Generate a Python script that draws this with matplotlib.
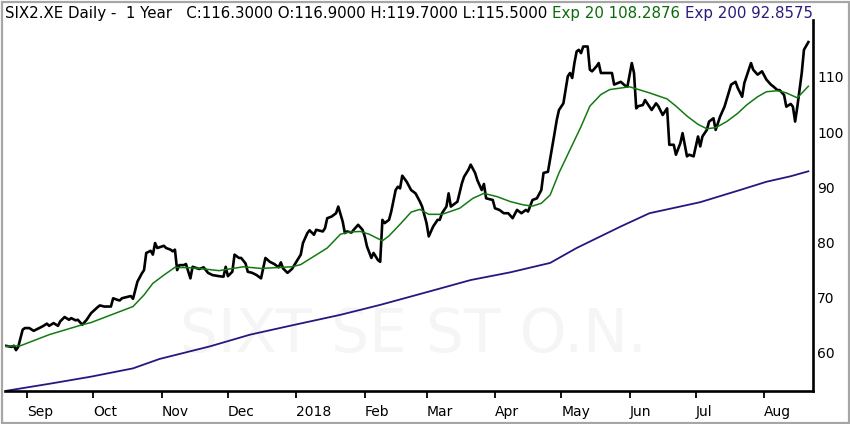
import numpy as np
import pandas as pd
import matplotlib
matplotlib.use('Agg')
import matplotlib.pyplot as plt
from matplotlib.patches import Rectangle

# ---- data ----
start = pd.Timestamp('2017-08-22')

close_day = [0, 3, 4, 5, 6, 8, 9, 11, 13, 14, 17, 19, 20, 22, 24, 25, 27, 29, 30, 32,
             33, 35, 37, 39, 42, 43, 45, 48, 49, 51, 52, 53, 56, 57, 58, 60, 62, 63, 64, 66,
             67, 68, 69, 72, 73, 75, 76, 77, 78, 79, 81, 82, 84, 85, 88, 90, 92, 94, 97, 99,
             100, 101, 103, 104, 106, 107, 109, 110, 112, 114, 116, 118, 120, 122, 124, 125, 126, 128, 130, 132,
             134, 135, 137, 138, 140, 141, 144, 145, 146, 148, 150, 151, 153, 154, 155, 157, 158, 160, 162, 163,
             164, 166, 167, 169, 170, 171, 172, 174, 175, 177, 178, 179, 180, 182, 184, 186, 188, 189, 191, 192,
             194, 196, 197, 198, 200, 201, 202, 205, 207, 208, 210, 211, 213, 214, 216, 217, 218, 221, 222, 224,
             226, 228, 230, 232, 234, 236, 237, 239, 241, 243, 244, 246, 248, 249, 250, 251, 253, 254, 255, 256,
             257, 258, 259, 260, 261, 262, 264, 265, 266, 268, 269, 270, 273, 275, 276, 279, 281, 282, 284, 285,
             286, 287, 289, 290, 291, 293, 295, 296, 298, 300, 301, 303, 304, 306, 307, 309, 310, 312, 314, 315,
             316, 318, 319, 321, 322, 324, 326, 328, 329, 331, 332, 334, 335, 338, 339, 341, 343, 345, 347, 348,
             350, 351, 353, 354, 356, 357, 358, 359, 361, 362, 364]
close_val = [61.3, 61.1, 61.3, 60.5, 61.1, 64.2, 64.5, 64.5, 64.0, 64.2, 64.8, 65.3, 64.9, 65.4, 64.9, 65.7, 66.5, 66.0, 66.3, 65.9,
             66.0, 65.1, 66.0, 67.2, 68.3, 68.6, 68.4, 68.4, 69.9, 69.6, 69.5, 69.9, 70.2, 70.3, 69.8, 72.9, 74.4, 75.0, 78.1, 78.5,
             77.8, 79.9, 79.0, 79.4, 79.0, 78.7, 78.4, 78.7, 75.0, 75.9, 75.9, 76.1, 73.5, 75.6, 75.2, 75.5, 74.5, 74.1, 73.9, 73.8,
             75.6, 73.9, 74.7, 77.8, 77.2, 77.2, 76.2, 74.7, 74.5, 74.1, 73.5, 77.2, 76.5, 76.1, 75.5, 76.4, 75.3, 74.5, 75.2, 76.5,
             77.8, 79.9, 81.7, 82.2, 81.4, 82.3, 82.0, 82.6, 84.4, 84.7, 85.3, 86.5, 83.8, 81.7, 82.0, 81.8, 82.3, 83.2, 82.3, 81.1,
             79.3, 77.2, 78.1, 76.8, 76.5, 84.1, 83.5, 84.1, 85.6, 89.5, 90.1, 89.8, 92.1, 91.0, 89.5, 88.9, 87.4, 86.5, 83.5, 81.1,
             82.9, 84.1, 84.1, 85.3, 86.5, 88.9, 86.5, 87.4, 90.7, 91.9, 93.2, 94.1, 92.6, 91.3, 89.5, 90.6, 88.0, 87.7, 86.2, 85.9,
             85.3, 85.3, 84.4, 85.9, 85.3, 85.9, 85.6, 87.7, 88.0, 89.5, 92.6, 92.8, 97.4, 99.8, 102.2, 104.0, 105.2, 107.6, 110.1, 110.7,
             109.8, 112.5, 114.6, 114.9, 114.3, 115.5, 115.5, 111.3, 111.0, 111.9, 112.5, 110.7, 110.7, 110.7, 108.6, 109.1, 108.4, 108.2, 112.5, 110.7,
             104.3, 104.7, 104.9, 105.8, 105.2, 104.0, 105.2, 104.7, 103.1, 104.3, 97.7, 97.7, 95.9, 98.0, 99.8, 95.6, 95.9, 95.6, 99.2, 97.4,
             99.2, 100.4, 101.9, 102.5, 100.4, 102.8, 104.6, 107.3, 108.6, 109.1, 108.0, 106.4, 108.9, 112.5, 111.3, 110.4, 111.0, 109.5, 108.6, 108.3,
             107.6, 107.6, 106.7, 104.6, 105.1, 104.6, 101.9, 104.6, 110.7, 114.9, 116.3]

ema20_day = [0, 7, 20, 35, 39, 58, 63, 67, 72, 77, 85, 88, 97, 108, 116, 130, 134, 140, 146, 152,
             156, 161, 165, 171, 174, 179, 184, 188, 192, 198, 206, 212, 217, 223, 229, 235, 239, 243, 247, 251,
             256, 261, 265, 270, 274, 283, 292, 300, 304, 309, 314, 318, 322, 327, 332, 336, 341, 345, 350, 354,
             359, 364]
ema20_val = [61.2, 61.3, 63.3, 65.1, 65.5, 68.4, 70.5, 72.6, 74.1, 75.5, 75.4, 75.3, 74.9, 75.6, 75.3, 75.6, 76.0, 77.5, 79.0, 81.5,
             81.9, 82.0, 81.5, 80.3, 81.2, 83.3, 85.5, 86.0, 85.1, 85.1, 86.2, 88.0, 88.9, 88.3, 87.4, 86.8, 86.6, 87.1, 88.6, 92.6,
             96.8, 101.0, 104.7, 106.8, 107.7, 108.2, 107.1, 106.0, 104.7, 102.9, 101.4, 100.6, 100.8, 101.9, 103.4, 104.9, 106.4, 107.3, 107.5, 107.1,
             106.2, 108.3]

ema200_day = [0, 20, 39, 58, 70, 93, 111, 129, 152, 170, 192, 211, 229, 247, 259, 279, 292, 315, 333, 345, 356, 364]
ema200_val = [53.1, 54.4, 55.7, 57.2, 58.9, 61.2, 63.3, 64.9, 66.9, 68.7, 71.1, 73.2, 74.6, 76.3, 79.0, 82.9, 85.3, 87.3, 89.5, 91.0, 92.0, 92.9]

y_ticks = [60, 70, 80, 90, 100, 110]
month_starts = ['2017-09-01', '2017-10-01', '2017-11-01', '2017-12-01', '2018-01-01', '2018-02-01',
                '2018-03-01', '2018-04-01', '2018-05-01', '2018-06-01', '2018-07-01', '2018-08-01']
month_labels = ['Sep', 'Oct', 'Nov', 'Dec', '2018', 'Feb', 'Mar', 'Apr', 'May', 'Jun', 'Jul', 'Aug']

header_parts = [('SIX2.XE Daily -  1 Year   C:116.3000 O:116.9000 H:119.7000 L:115.5000 ', 'black'),
                ('Exp 20 108.2876 ', '#0b6b0b'),
                ('Exp 200 92.8575', '#2c1a7c')]
watermark = 'SIXT SE ST O.N.'

GREEN = '#137a13'
PURPLE = '#2a1580'


def to_dates(days):
    return start + pd.to_timedelta(days, unit='D')


fig = plt.figure(figsize=(8.5, 4.24), dpi=100)
ax = fig.add_axes([5 / 850, 33 / 424, 808 / 850, 371 / 424])

ax.text(0.505, 0.15, watermark, transform=ax.transAxes, ha='center', va='center',
        fontsize=43, color='#f5f5f5', zorder=0)

ax.plot(to_dates(ema200_day), ema200_val, color=PURPLE, lw=1.3, zorder=2)
ax.plot(to_dates(close_day), close_val, color='black', lw=1.9, zorder=3)
ax.plot(to_dates(ema20_day), ema20_val, color=GREEN, lw=1.1, zorder=4)

ax.set_xlim(start, start + pd.Timedelta(days=366.1))
ax.set_ylim(53.1, 120.3)

for side in ['left', 'top']:
    ax.spines[side].set_visible(False)
for side in ['right', 'bottom']:
    ax.spines[side].set_linewidth(1.9)
    ax.spines[side].set_color('black')

ax.set_xticks(pd.to_datetime(month_starts))
ax.set_xticklabels(month_labels, ha='left', fontsize=10)
ax.tick_params(axis='x', direction='out', length=5, width=1.3, pad=5, color='black')

ax.yaxis.tick_right()
ax.set_yticks(y_ticks)
ax.set_yticklabels([str(v) for v in y_ticks], fontsize=10)
ax.tick_params(axis='y', length=0, pad=3)

# outer window frame
fig.patches.append(Rectangle((1.5 / 850, 1.5 / 424), 847 / 850, 421 / 424, transform=fig.transFigure,
                             fill=False, edgecolor='#a6a6a6', lw=1.6))

# header, drawn piece by piece
fig.canvas.draw()
renderer = fig.canvas.get_renderer()
x_px = 5
for txt, col in header_parts:
    t = fig.text(x_px / 850, (424 - 18.3) / 424, txt, color=col, fontsize=10.8,
                 ha='left', va='baseline')
    x_px = t.get_window_extent(renderer).x1

fig.savefig('out.png', dpi=100)
